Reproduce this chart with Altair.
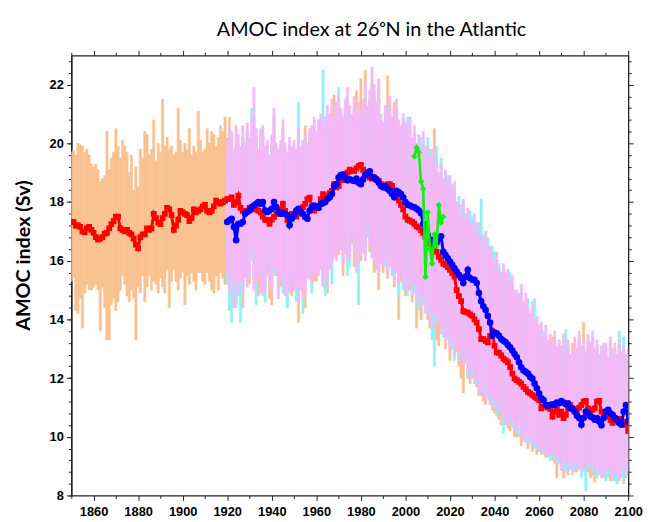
import altair as alt
import pandas as pd

# annual AMOC index (Sv)
RED_START = 1850   # red series and orange band start here
ENS_START = 1920   # blue series, cyan and pink bands start here
OBS_START = 2004   # green observations

red = [
    17.32, 17.32, 17.2, 17.2, 17.15, 17.0, 16.97, 17.1, 17.15, 17.05,
    16.95, 16.8, 16.72, 16.75, 16.8, 16.92, 16.95, 17.1, 17.25, 17.35,
    17.5, 17.5, 17.1, 17.05, 17.0, 17.05, 16.95, 16.9, 16.75, 16.55,
    16.42, 16.8, 16.9, 16.9, 17.1, 17.05, 17.1, 17.6, 17.45, 17.3,
    17.25, 17.45, 17.6, 17.8, 17.75, 17.55, 17.05, 17.2, 17.4, 17.7,
    17.65, 17.6, 17.55, 17.35, 17.45, 17.75, 17.65, 17.7, 17.75, 17.85,
    17.9, 17.7, 17.65, 17.7, 17.85, 18.05, 18.0, 17.95, 18.0, 18.05,
    18.1, 18.1, 18.16, 17.9, 18.0, 18.22, 17.8, 17.7, 17.66, 17.7,
    17.8, 17.75, 17.83, 17.75, 17.71, 17.65, 17.5, 17.4, 17.38, 17.26,
    17.4, 17.49, 17.6, 17.6, 17.75, 17.94, 17.7, 17.38, 17.5, 17.6,
    17.55, 17.5, 17.6, 17.75, 17.83, 17.94, 18.1, 18.15, 17.8, 17.71,
    17.85, 17.83, 18.1, 18.27, 18.2, 18.22, 18.3, 18.38, 18.61, 18.5,
    18.55, 18.83, 18.75, 18.94, 19.0, 19.1, 19.05, 19.05, 19.15, 19.22,
    19.27, 19.1, 19.0, 18.9, 18.83, 18.8, 18.83, 18.75, 18.72, 18.61,
    18.55, 18.5, 18.6, 18.61, 18.55, 18.38, 18.2, 18.05, 17.9, 17.75,
    17.5, 17.4, 17.37, 17.32, 17.26, 17.17, 17.13, 17.04, 16.95, 16.81,
    16.7, 16.59, 16.47, 16.36, 16.3, 16.14, 16.03, 15.9, 15.86, 15.78,
    15.69, 15.58, 15.46, 15.0, 14.79, 14.62, 14.28, 14.25, 14.23, 14.17,
    14.12, 14.0, 13.89, 13.67, 13.33, 13.33, 13.27, 13.22, 13.44, 13.6,
    13.1, 12.88, 12.86, 12.77, 12.66, 12.6, 12.54, 12.37, 12.15, 11.98,
    11.93, 11.87, 11.81, 11.7, 11.62, 11.53, 11.48, 11.42, 11.36, 11.31,
    11.25, 10.97, 11.03, 11.08, 10.99, 10.95, 10.69, 10.86, 10.92, 10.75,
    10.86, 10.64, 10.75, 10.97, 11.08, 10.95, 10.86, 10.92, 10.99, 11.08,
    11.2, 11.22, 10.97, 10.86, 10.92, 10.97, 11.2, 11.22, 10.86, 10.75,
    10.8, 10.69, 10.58, 10.47, 10.64, 10.54, 10.61, 10.47, 10.52, 10.41, 10.19,
]

blue = [
    17.32, 17.38, 17.43, 17.15, 16.7, 17.26, 17.26, 17.32, 17.6, 17.66,
    17.71, 17.83, 17.88, 17.94, 18.0, 17.94, 18.0, 17.71, 17.66, 17.71,
    17.77, 18.0, 17.83, 17.66, 17.6, 17.62, 17.6, 17.55, 17.21, 17.43,
    17.55, 17.71, 17.77, 17.66, 17.6, 17.49, 17.43, 17.71, 17.83, 17.88,
    17.85, 17.8, 17.94, 17.96, 18.0, 18.1, 18.16, 18.27, 18.55, 18.61,
    18.83, 18.92, 18.94, 18.83, 18.74, 18.77, 18.74, 18.72, 18.8, 18.66,
    18.61, 18.77, 18.92, 19.0, 19.05, 18.85, 18.83, 18.77, 18.66, 18.55,
    18.5, 18.55, 18.44, 18.38, 18.27, 18.16, 18.38, 18.33, 18.27, 18.16,
    18.0, 17.91, 17.88, 17.84, 17.82, 17.77, 17.71, 17.62, 17.26, 17.04,
    16.87, 16.72, 16.7, 16.64, 16.61, 16.75, 16.83, 16.3, 16.19, 16.08,
    15.97, 15.86, 15.74, 15.63, 15.52, 15.41, 15.24, 15.46, 15.69, 15.41,
    15.35, 15.35, 15.24, 14.9, 14.62, 14.45, 14.32, 14.12, 13.89, 13.44,
    13.55, 13.53, 13.44, 13.33, 13.27, 13.22, 13.13, 13.05, 12.94, 12.82,
    12.71, 12.54, 12.37, 12.26, 12.21, 12.15, 12.04, 11.98, 11.81, 11.65,
    11.48, 11.31, 11.25, 11.08, 11.06, 11.08, 11.11, 11.08, 11.17, 11.14,
    11.22, 11.17, 11.11, 11.14, 10.97, 10.97, 10.86, 10.72, 10.64, 10.41,
    10.64, 10.86, 10.8, 10.69, 10.66, 10.58, 10.64, 10.52, 10.39, 10.64,
    10.86, 10.92, 10.8, 10.75, 10.64, 10.58, 10.47, 10.41, 10.86, 11.08, 10.52,
]

green = [19.55, 19.85, 19.7, 18.7, 18.45, 15.45, 17.65, 16.4, 15.9, 16.9,
         16.5, 17.9, 17.3, 17.5]

# orange band 1850-2100
orange_hi = [
    19.7, 19.75, 19.6, 20.0, 19.95, 19.9, 19.7, 19.8, 19.6, 19.3,
    19.2, 19.3, 19.1, 18.7, 18.8, 18.9, 20.4, 19.1, 19.5, 19.7,
    20.5, 19.9, 19.5, 20.1, 19.9, 19.7, 19.0, 19.6, 18.4, 19.2,
    18.5, 19.8, 19.5, 20.4, 20.3, 19.6, 19.8, 20.8, 19.4, 20.0,
    19.7, 21.5, 19.9, 20.2, 19.8, 19.9, 19.6, 19.7, 21.2, 20.1,
    19.7, 20.0, 19.8, 20.5, 19.6, 19.9, 19.7, 21.1, 20.1, 19.7,
    19.8, 20.5, 20.0, 20.4, 20.3, 19.9, 20.2, 20.6, 20.4, 20.9,
    20.2, 20.9, 20.3, 19.6, 19.9, 20.0, 19.5, 20.2, 19.8, 20.4,
    19.9, 20.4, 20.9, 20.2, 19.6, 20.0, 20.3, 19.7, 19.9, 19.3,
    20.0, 20.9, 19.8, 19.6, 19.9, 20.5, 19.8, 19.5, 19.9, 19.7,
    19.8, 19.6, 20.2, 19.7, 19.9, 20.6, 19.8, 20.2, 20.3, 20.6,
    20.2, 20.6, 20.8, 20.4, 20.6, 21.0, 20.7, 21.2, 21.65, 21.1,
    21.3, 20.9, 20.7, 21.2, 21.6, 21.0, 20.8, 21.3, 21.8, 21.2,
    22.2, 21.2, 22.5, 21.0, 21.5, 22.0, 21.7, 21.2, 21.9, 20.8,
    20.5, 21.1, 22.3, 21.3, 20.7, 21.4, 21.2, 20.6, 20.4, 20.8,
    20.5, 20.2, 20.6, 20.0, 20.3, 19.8, 20.0, 19.6, 20.1, 19.4,
    19.6, 19.3, 19.6, 20.5, 19.3, 18.8, 19.0, 18.6, 18.9, 18.4,
    18.6, 18.2, 18.4, 17.8, 17.6, 17.3, 17.8, 17.2, 17.5, 17.0,
    16.9, 17.3, 16.7, 17.0, 16.5, 16.3, 16.7, 16.2, 16.2, 15.9,
    15.8, 16.0, 15.5, 15.4, 15.6, 15.3, 15.4, 15.1, 15.2, 14.8,
    14.7, 14.6, 14.9, 14.4, 14.6, 14.2, 14.0, 14.3, 13.8, 13.9,
    13.6, 13.6, 13.2, 13.5, 13.1, 13.3, 13.4, 13.3, 13.0, 13.2,
    12.9, 13.3, 12.7, 13.1, 12.6, 13.2, 13.2, 12.8, 13.4, 12.9,
    13.9, 12.7, 13.3, 13.0, 13.4, 12.8, 13.1, 12.6, 12.9, 12.7,
    13.0, 12.5, 13.2, 12.8, 13.0, 12.6, 13.1, 12.7, 12.9, 12.6, 12.8,
]
orange_lo = [
    15.3, 15.4, 14.3, 14.2, 14.7, 13.7, 14.9, 15.2, 15.0, 15.0,
    15.1, 15.2, 15.0, 13.6, 15.1, 14.4, 13.3, 13.3, 14.5, 14.7,
    14.3, 14.6, 15.0, 15.5, 15.2, 14.8, 14.6, 15.0, 14.7, 13.3,
    15.1, 14.9, 15.5, 14.6, 15.1, 15.5, 15.0, 15.3, 15.2, 14.9,
    15.4, 15.1, 14.9, 15.7, 14.4, 15.3, 15.7, 15.3, 15.0, 15.4,
    15.6, 14.5, 15.5, 15.2, 15.6, 15.3, 15.0, 15.6, 15.6, 15.3,
    15.2, 15.6, 15.3, 15.0, 14.9, 15.5, 15.0, 15.6, 15.4, 15.2,
    15.6, 14.3, 15.6, 14.6, 15.4, 15.0, 15.5, 14.4, 15.6, 15.3,
    15.2, 16.1, 15.2, 15.5, 14.8, 15.1, 15.0, 15.2, 15.5, 14.7,
    14.5, 15.6, 15.5, 15.0, 15.1, 15.6, 14.9, 14.4, 15.1, 14.8,
    15.2, 15.3, 13.9, 15.2, 14.9, 14.4, 15.5, 15.5, 15.4, 15.3,
    15.3, 15.6, 15.9, 15.3, 15.7, 14.9, 15.8, 16.0, 16.2, 16.1,
    16.2, 16.5, 15.5, 16.3, 16.2, 16.3, 16.6, 15.8, 15.8, 16.1,
    16.0, 16.3, 16.2, 16.8, 16.3, 16.3, 15.6, 15.8, 15.0, 16.0,
    15.6, 16.2, 15.4, 15.8, 15.9, 15.1, 15.7, 14.0, 15.3, 15.2,
    14.8, 15.2, 15.0, 14.6, 15.0, 13.7, 15.0, 14.0, 14.6, 14.3,
    14.0, 13.7, 14.0, 13.9, 13.3, 13.1, 13.7, 13.6, 13.0, 13.7,
    12.6, 13.1, 12.7, 12.9, 12.4, 12.0, 11.5, 12.5, 12.0, 11.8,
    12.0, 11.9, 11.7, 11.4, 11.6, 11.2, 11.1, 11.6, 11.2, 10.9,
    10.8, 11.0, 10.6, 10.4, 10.9, 10.5, 10.3, 10.2, 10.6, 10.0,
    10.0, 10.2, 9.7, 10.0, 9.9, 9.6, 9.8, 9.5, 9.9, 9.4,
    9.8, 9.4, 9.7, 9.3, 9.4, 9.3, 9.2, 9.1, 8.6, 9.2,
    9.0, 8.6, 9.2, 8.7, 9.0, 8.9, 8.8, 8.8, 9.0, 8.9,
    9.1, 8.7, 8.8, 8.6, 8.7, 8.45, 8.9, 8.8, 8.6, 8.7,
    8.7, 8.8, 8.5, 8.7, 8.6, 8.8, 8.5, 8.6, 8.4, 8.6, 8.7,
]

# cyan band 1920-2100
cyan_hi = [
    19.6, 20.1, 19.8, 19.5, 20.2, 19.9, 19.4, 20.1, 19.7, 20.3,
    19.8, 21.2, 20.6, 20.1, 19.5, 20.5, 20.2, 19.6, 19.8, 19.4,
    19.9, 20.7, 19.7, 19.5, 19.8, 20.4, 19.6, 19.4, 19.9, 19.6,
    19.8, 19.5, 21.4, 19.6, 19.8, 19.9, 19.7, 20.1, 20.2, 20.5,
    20.1, 20.5, 20.7, 22.5, 20.5, 20.9, 20.7, 21.1, 20.6, 21.0,
    21.9, 20.9, 20.6, 21.1, 21.5, 21.0, 20.7, 21.2, 20.9, 21.1,
    20.7, 21.2, 21.7, 21.0, 21.5, 22.1, 21.6, 21.1, 21.8, 20.7,
    20.4, 21.0, 20.7, 21.2, 20.6, 20.9, 21.1, 20.5, 20.3, 20.7,
    20.4, 20.9, 20.5, 19.9, 20.3, 19.7, 20.0, 20.2, 20.1, 19.9,
    20.2, 19.8, 19.5, 19.6, 19.9, 18.8, 19.5, 18.6, 19.0, 18.9,
    18.7, 18.6, 18.2, 17.8, 18.2, 17.9, 18.0, 17.6, 17.4, 17.7,
    17.5, 17.2, 17.3, 17.0, 18.1, 16.9, 16.7, 16.8, 16.2, 16.5,
    16.3, 16.0, 15.9, 15.4, 15.8, 15.4, 15.5, 15.6, 15.2, 14.9,
    14.8, 14.9, 14.9, 14.4, 14.3, 14.7, 14.0, 14.3, 14.7, 13.9,
    13.6, 13.7, 13.6, 13.5, 13.1, 13.3, 13.0, 13.4, 12.9, 13.1,
    12.9, 13.2, 13.65, 13.1, 12.7, 12.8, 13.1, 12.8, 13.3, 12.9,
    13.0, 12.7, 13.2, 12.9, 13.3, 12.8, 13.0, 12.6, 12.9, 13.2,
    12.9, 12.6, 13.1, 12.8, 12.9, 12.6, 13.6, 12.7, 13.4, 12.6, 12.8,
]
cyan_lo = [
    15.2, 14.3, 13.9, 14.7, 14.4, 15.1, 13.9, 15.2, 15.6, 15.4,
    15.7, 16.0, 15.3, 14.5, 15.6, 15.2, 15.1, 14.6, 16.0, 15.4,
    15.1, 15.5, 15.8, 15.0, 15.5, 14.9, 15.0, 14.4, 15.1, 15.4,
    15.2, 14.6, 14.8, 15.2, 14.2, 15.1, 15.6, 15.5, 14.9, 15.8,
    15.6, 15.7, 15.9, 15.3, 14.8, 15.5, 15.9, 15.2, 16.3, 16.2,
    16.6, 16.5, 16.1, 16.4, 15.5, 15.8, 17.0, 16.5, 15.8, 14.5,
    16.4, 16.6, 16.2, 17.0, 16.7, 16.3, 16.2, 15.9, 15.7, 16.1,
    16.0, 15.8, 15.8, 16.2, 15.5, 15.5, 15.8, 14.8, 15.7, 15.0,
    15.3, 14.8, 15.2, 15.0, 14.9, 14.8, 14.3, 14.6, 14.5, 14.4,
    14.2, 14.1, 13.3, 12.4, 13.9, 14.0, 13.7, 13.4, 13.4, 13.3,
    13.2, 13.0, 12.6, 13.3, 12.8, 12.7, 12.6, 12.9, 12.0, 12.2,
    12.1, 12.0, 11.8, 11.8, 11.6, 11.5, 11.5, 11.3, 11.3, 11.0,
    11.2, 10.7, 10.9, 10.8, 10.1, 10.6, 10.5, 10.6, 10.3, 10.4,
    10.4, 10.0, 10.2, 10.0, 9.8, 10.0, 9.8, 9.9, 9.6, 9.8,
    9.5, 9.7, 9.4, 9.6, 9.5, 9.2, 9.5, 9.2, 9.3, 9.1,
    9.0, 9.0, 8.8, 9.1, 8.9, 8.9, 8.8, 9.0, 8.9, 8.6,
    8.8, 8.15, 8.9, 9.0, 8.8, 8.9, 8.6, 8.9, 8.7, 8.8,
    8.5, 8.6, 8.8, 8.6, 8.5, 8.4, 8.7, 8.6, 8.5, 8.7, 8.9,
]

# pink band 1920-2100
pink_hi = [
    20.1, 20.5, 20.4, 19.8, 20.6, 20.3, 19.9, 20.6, 20.0, 20.7,
    20.2, 20.8, 21.9, 20.5, 19.8, 20.4, 20.6, 19.9, 20.1, 19.6,
    20.3, 21.2, 20.0, 19.8, 20.1, 20.8, 20.0, 19.7, 20.2, 19.9,
    20.1, 19.8, 20.5, 19.9, 20.1, 20.3, 20.0, 20.5, 20.6, 20.9,
    20.4, 20.8, 21.0, 20.7, 20.9, 21.3, 21.0, 21.5, 20.9, 21.4,
    21.7, 21.2, 20.9, 21.5, 21.9, 21.3, 21.0, 21.6, 21.2, 21.4,
    21.0, 21.5, 22.1, 21.3, 21.8, 22.6, 22.0, 21.4, 22.2, 21.0,
    20.7, 21.3, 21.0, 21.6, 20.9, 21.2, 21.5, 20.8, 20.6, 21.0,
    20.7, 20.5, 20.9, 20.2, 20.6, 20.0, 20.3, 19.8, 20.4, 19.6,
    19.9, 19.5, 19.8, 19.2, 19.6, 19.0, 19.3, 18.8, 19.1, 18.6,
    18.9, 18.4, 18.7, 18.0, 17.9, 17.5, 18.1, 17.4, 17.8, 17.3,
    17.2, 17.6, 16.9, 17.3, 16.8, 16.6, 17.0, 16.4, 16.5, 16.2,
    16.0, 16.3, 15.7, 15.6, 15.9, 15.6, 15.7, 15.3, 15.5, 15.0,
    15.0, 14.8, 15.2, 14.6, 14.9, 14.4, 14.2, 14.6, 14.0, 14.1,
    13.8, 13.9, 13.4, 13.8, 13.3, 13.5, 13.2, 13.6, 13.1, 13.3,
    13.1, 13.5, 12.9, 13.3, 12.8, 12.9, 13.4, 13.0, 13.6, 13.1,
    13.3, 12.9, 13.5, 13.2, 13.6, 13.0, 13.3, 12.8, 13.1, 12.9,
    13.2, 12.7, 13.4, 13.0, 13.2, 12.8, 13.3, 12.9, 13.1, 12.8, 13.0,
]
pink_lo = [
    15.6, 15.0, 15.4, 14.4, 15.2, 14.8, 15.3, 14.9, 15.4, 15.1,
    15.5, 16.3, 15.0, 15.3, 15.4, 14.9, 14.8, 15.0, 15.8, 15.2,
    14.9, 15.8, 15.6, 14.7, 15.3, 15.4, 14.8, 15.2, 14.9, 15.2,
    15.0, 15.1, 14.6, 15.0, 14.7, 14.9, 15.4, 15.35, 15.2, 15.6,
    15.46, 15.5, 15.7, 15.1, 15.6, 15.3, 15.7, 15.9, 16.1, 16.0,
    16.4, 16.36, 15.9, 16.2, 16.0, 16.1, 16.8, 16.3, 15.6, 15.9,
    16.2, 16.4, 16.0, 17.1, 16.5, 16.1, 16.0, 15.7, 15.5, 15.9,
    15.8, 16.0, 15.6, 16.0, 15.7, 15.3, 15.6, 15.2, 15.5, 15.3,
    15.1, 15.0, 15.4, 14.8, 15.2, 14.6, 14.9, 14.4, 14.8, 14.2,
    14.5, 13.9, 14.2, 13.7, 14.1, 13.9, 13.5, 13.8, 13.2, 13.5,
    13.0, 13.3, 12.8, 13.1, 12.6, 12.9, 12.4, 12.7, 12.2, 12.0,
    12.3, 11.8, 12.0, 11.6, 11.4, 11.7, 11.3, 11.5, 11.1, 11.3,
    11.0, 10.9, 11.1, 10.6, 10.8, 10.4, 10.7, 10.4, 10.5, 10.2,
    10.2, 10.4, 10.0, 9.85, 10.1, 9.8, 10.0, 9.7, 9.85, 9.6,
    9.7, 9.5, 9.6, 9.4, 9.3, 9.5, 9.3, 9.4, 9.1, 9.3,
    8.85, 9.2, 9.1, 8.9, 9.2, 8.7, 9.0, 8.9, 9.1, 8.8,
    9.0, 8.9, 9.1, 8.84, 9.0, 8.8, 9.0, 8.7, 8.9, 8.6,
    8.8, 8.9, 8.7, 8.5, 8.8, 8.7, 8.6, 8.9, 8.7, 8.9, 8.8,
]

X_TICKS = list(range(1850, 2101, 10))
Y_MAJOR = list(range(8, 23, 2))
Y_TICKS = [round(8 + 0.4 * i, 1) for i in range(38)]

xs = alt.Scale(domain=[1850, 2100], nice=False, zero=False)
ys = alt.Scale(domain=[8, 23], nice=False, zero=False)

LABEL_FONT = "Liberation Sans"
LINE = "#222222"

x_major = "datum.value % 20 === 0"
y_major = "abs(datum.value - 2 * round(datum.value / 2)) < 0.01"


def tick_len(test):
    return {"condition": {"test": test, "value": 5}, "value": 3}


# tickCount / tickMinStep set so Vega keeps every explicit tick value
axis_style = dict(
    domainColor=LINE, domainWidth=1.3, tickColor=LINE, tickWidth=1,
    tickCount=200, grid=False, labelFont=LABEL_FONT, labelFontSize=13,
    labelFontWeight="bold", labelColor="black", labelOverlap=False,
    labelFlush=False,
)

x_bottom = alt.Axis(orient="bottom", values=X_TICKS, format="d",
                    labelExpr=f"{x_major} ? datum.label : ''",
                    tickSize=tick_len(x_major), labelPadding=5, title=None,
                    **axis_style)
x_top = alt.Axis(orient="top", values=X_TICKS, labels=False,
                 tickSize=tick_len(x_major), title=None, **axis_style)
y_left = alt.Axis(orient="left", values=Y_MAJOR, tickMinStep=0.1,
                  labelExpr="format(datum.value, 'd')",
                  tickSize=5, labelPadding=3,
                  title="AMOC index (Sv)", titleFont="Lato", titleFontSize=20,
                  titleFontWeight="bold", titleColor="black",
                  titleX=-48, titleY=202, titleAngle=270,
                  titleAlign="center", titleBaseline="middle",
                  **axis_style)
y_left_minor = alt.Axis(orient="left", values=Y_TICKS, tickMinStep=0.1,
                        labels=False, tickSize=3, title=None, **axis_style)
y_right = alt.Axis(orient="right", values=Y_TICKS, tickMinStep=0.1,
                   labels=False, tickSize=tick_len(y_major), title=None,
                   **axis_style)


def band(start, lo, hi, color, xaxis=None, yaxis=None):
    df = pd.DataFrame({"year": range(start, start + len(lo)), "lo": lo, "hi": hi})
    return (
        alt.Chart(df)
        .transform_calculate(x0="datum.year - 0.5", x1="datum.year + 0.5")
        .mark_rect(color=color, stroke=color, strokeWidth=0.6, clip=True)
        .encode(
            x=alt.X("x0:Q", scale=xs, axis=xaxis),
            x2="x1:Q",
            y=alt.Y("lo:Q", scale=ys, axis=yaxis),
            y2="hi:Q",
        )
    )


def series(start, values, color, shape, size, width):
    df = pd.DataFrame({"year": range(start, start + len(values)), "v": values})
    base = alt.Chart(df).encode(
        x=alt.X("year:Q", scale=xs, axis=None),
        y=alt.Y("v:Q", scale=ys, axis=None),
    )
    line = base.mark_line(color=color, strokeWidth=width, clip=True)
    pts = base.mark_point(shape=shape, size=size, filled=True, color=color,
                          opacity=1, clip=True)
    return line + pts


orange = band(RED_START, orange_lo, orange_hi, "#f9c18f", x_bottom, y_left)
cyan = band(ENS_START, cyan_lo, cyan_hi, "#8ef2f7", x_top, y_right)
pink = band(ENS_START, pink_lo, pink_hi, "#f4b9f7", None, y_left_minor)

red_s = series(RED_START, red, "#ff0000", "square", 34, 3)
blue_s = series(ENS_START, blue, "#0000ff", "circle", 45, 3)
green_s = series(OBS_START, green, "#11ee11", "diamond", 40, 2.6)

chart = (
    alt.layer(orange, cyan, pink, red_s, blue_s, green_s)
    .resolve_axis(x="independent", y="independent")
    .properties(
        width=563,
        height=445,
        padding={"left": 64, "top": 45, "right": 16, "bottom": 24},
        autosize=alt.AutoSizeParams(type="none"),
        title=alt.TitleParams(
            "AMOC index at 26ᵒN in the Atlantic",
            font="Lato", fontSize=20, fontWeight="normal", color="black",
            anchor="middle", dx=22, offset=10,
        ),
    )
    .configure_view(stroke=None)
)

chart.save("out.html", embed_options={"renderer": "svg", "actions": False})
